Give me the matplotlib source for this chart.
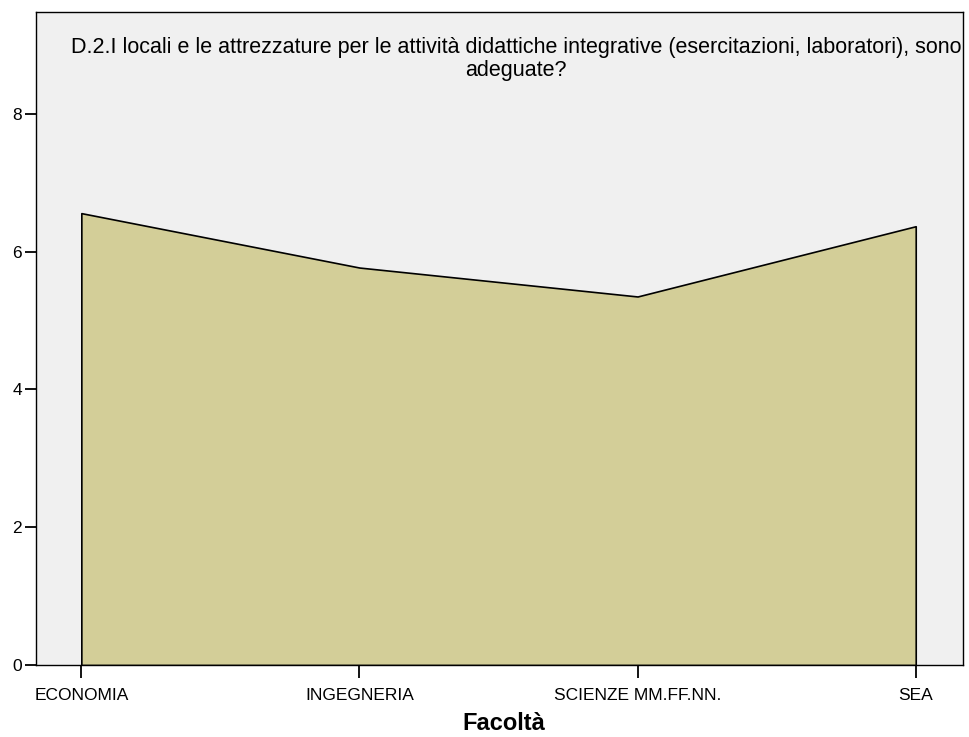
import matplotlib.pyplot as plt

facolta = ["ECONOMIA", "INGEGNERIA", "SCIENZE MM.FF.NN.", "SEA"]
valori = [6.56, 5.77, 5.35, 6.37]
yticks = [0, 2, 4, 6, 8]
titolo = ("D.2.I locali e le attrezzature per le attività didattiche integrative (esercitazioni, laboratori), sono\n"
          "adeguate?")

plt.rcParams['font.family'] = ['Liberation Sans', 'DejaVu Sans']

fig = plt.figure(figsize=(9.69, 7.37), dpi=100)
ax = fig.add_axes([36/969, 1-665/737, (963-36)/969, (665-12)/737])
ax.set_facecolor("#f0f0f0")

x = list(range(len(facolta)))
ax.fill_between(x, valori, 0, facecolor="#d3ce98", edgecolor="black", linewidth=1.2)

ax.set_xlim(-0.163, 3.17)
ax.set_ylim(0, 9.48)
ax.set_xticks(x)
ax.set_xticklabels(facolta, fontsize=12.5)
ax.set_yticks(yticks)
ax.set_yticklabels([str(v) for v in yticks], fontsize=12.5)
ax.tick_params(axis="x", length=9.5, width=1.3, pad=7)
ax.tick_params(axis="y", length=8, width=1.3, pad=2)
for s in ax.spines.values():
    s.set_linewidth(1.0)

# etichetta asse x vicino al bordo inferiore, come nell'originale
ax.set_xlabel("Facoltà", fontsize=17, fontweight="bold", va="center")
ax.xaxis.set_label_coords(0.505, (665-724)/653)
fig.text(516/969, 1-59/737, titolo, ha="center", va="center", fontsize=15.5, linespacing=1.1)

plt.savefig("out.png", dpi=100)
